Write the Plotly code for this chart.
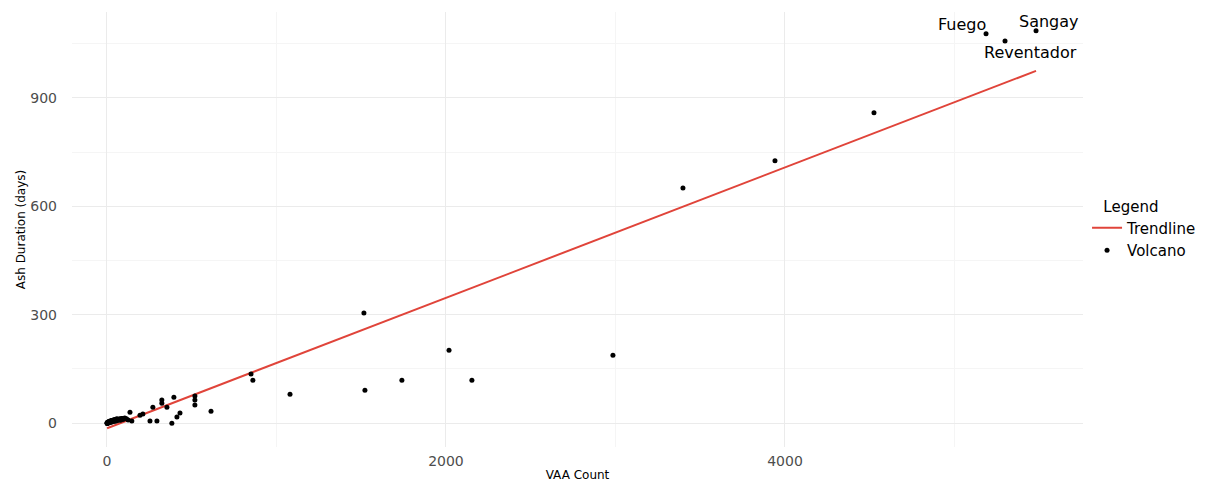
import numpy as np
import plotly.graph_objects as go

# ---- data ----
vaa_count = [2, 5, 8, 10, 15, 18, 22, 28, 32, 38, 42, 48, 52, 58, 65, 72, 80, 88, 95, 105, 115, 125,
             136, 147, 195, 212, 254, 271, 295, 324, 324, 354, 383, 395, 413, 431, 519, 519, 519, 614,
             850, 861, 1080, 1516, 1522, 1740, 2018, 2153, 2985, 3398, 3941, 4525, 5186, 5298, 5481,
             1, 1, 2, 3, 3, 4, 5, 6, 7, 8, 9, 10, 11, 12, 13, 14, 16, 17, 19, 20,
             21, 23, 24, 26, 27, 29, 30, 33, 35, 36, 39, 41, 44, 46, 49, 51, 55, 57, 61, 63,
             67, 70, 76, 83, 90]
ash_days = [0, 2, 1, 4, 3, 6, 5, 7, 4, 9, 8, 10, 6, 12, 9, 11, 8, 13, 10, 14, 12, 9,
            30, 6, 22, 25, 6, 44, 6, 64, 55, 44, 0, 72, 17, 28, 75, 64, 50, 33,
            136, 119, 80, 305, 91, 119, 202, 119, 188, 651, 726, 859, 1078, 1058, 1086,
            0, 1, 0, 1, 2, 0, 1, 2, 1, 3, 2, 2, 4, 3, 1, 3, 4, 2, 5, 3,
            4, 6, 5, 3, 6, 7, 4, 5, 8, 6, 7, 5, 9, 6, 8, 10, 7, 9, 8, 11,
            9, 10, 12, 11, 13]
label_names = ["Fuego", "Reventador", "Sangay"]
label_idx = [52, 53, 54]
label_offsets = [(-24, 9), (25, -12), (13, 9)]  # pixel offsets (style)

x = np.array(vaa_count, dtype=float)
y = np.array(ash_days, dtype=float)
slope, intercept = np.polyfit(x, y, 1)
xl = np.array([x.min(), x.max()])
yl = intercept + slope * xl

fig = go.Figure()
fig.add_trace(go.Scatter(x=xl, y=yl, mode="lines", name="Trendline",
                         line=dict(color="#E0443A", width=2)))
fig.add_trace(go.Scatter(x=vaa_count, y=ash_days, mode="markers", name="Volcano",
                         marker=dict(color="black", size=5)))

for name, i, (dx, dy) in zip(label_names, label_idx, label_offsets):
    fig.add_annotation(x=vaa_count[i], y=ash_days[i], text=name, showarrow=False,
                       xshift=dx, yshift=dy, font=dict(size=16, color="black"))

fig.update_layout(
    width=1197, height=474,
    margin=dict(l=64, r=122, t=4, b=35, autoexpand=False),
    plot_bgcolor="white", paper_bgcolor="white",
    font=dict(family="DejaVu Sans", color="black"),
    legend=dict(title=dict(text="&nbsp;&nbsp;&nbsp;Legend", font=dict(size=15)), font=dict(size=15),
                x=1.004, xanchor="left", y=0.5, yanchor="middle",
                tracegroupgap=0),
    xaxis=dict(range=[-206, 5758], tickvals=[0, 2000, 4000], ticktext=["0", "2000", "4000"],
               showgrid=True, gridcolor="#EBEBEB", gridwidth=1,
               minor=dict(tickvals=[1000, 3000, 5000], showgrid=True, gridcolor="#F5F5F5", gridwidth=1),
               zeroline=False, showline=False, ticks="", automargin=False,
               ticklabelstandoff=4,
               tickfont=dict(size=14, color="#4D4D4D"),
               title=dict(text="VAA Count", font=dict(size=12), standoff=4)),
    yaxis=dict(range=[-66, 1138], tickvals=[0, 300, 600, 900],
               showgrid=True, gridcolor="#EBEBEB", gridwidth=1,
               minor=dict(tickvals=[150, 450, 750, 1050], showgrid=True, gridcolor="#F5F5F5", gridwidth=1),
               zeroline=False, showline=False, ticks="", automargin=False,
               ticklabelstandoff=14,
               tickfont=dict(size=14, color="#4D4D4D"),
               title=dict(text="Ash Duration (days)", font=dict(size=12), standoff=2)),
)

fig.write_html("out.html")
